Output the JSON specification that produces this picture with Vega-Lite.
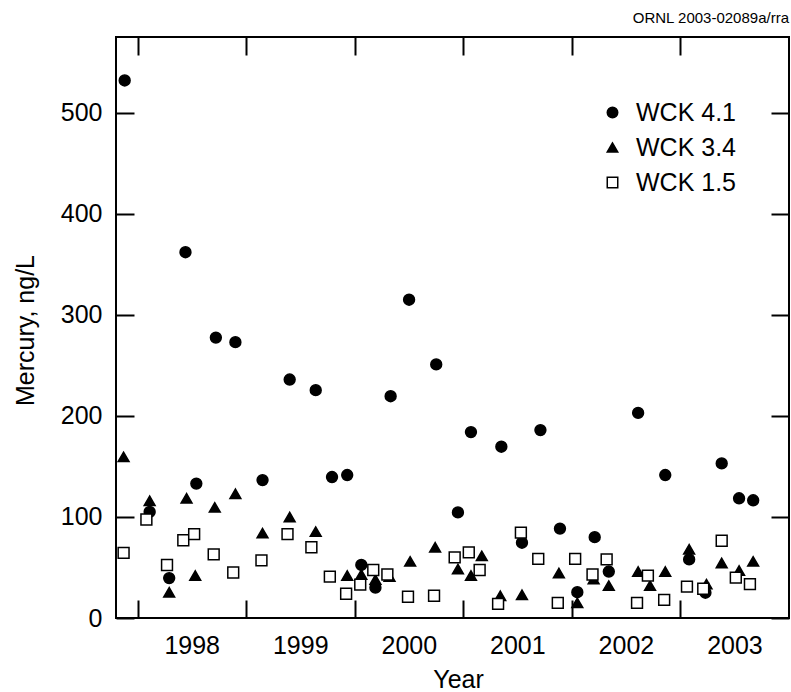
{
  "$schema": "https://vega.github.io/schema/vega-lite/v6.json",
  "width": 673,
  "height": 581,
  "autosize": {"type": "none"},
  "padding": {"left": 116, "top": 37, "right": 2, "bottom": 74},
  "background": "white",
  "title": {
    "text": "ORNL 2003-02089a/rra",
    "anchor": "end",
    "orient": "top",
    "frame": "group",
    "font": "Liberation Sans",
    "fontSize": 15,
    "fontWeight": "normal",
    "color": "black",
    "baseline": "alphabetic",
    "offset": -2
  },
  "config": {
    "view": {"stroke": "black", "strokeWidth": 2},
    "axis": {
      "domain": false,
      "grid": false,
      "tickColor": "black",
      "tickWidth": 2,
      "tickSize": -18,
      "labelFont": "Liberation Sans",
      "labelFontSize": 25,
      "labelColor": "black",
      "titleFont": "Liberation Sans",
      "titleFontSize": 25,
      "titleFontWeight": "normal",
      "titleColor": "black",
      "labelFlush": false,
      "labelOverlap": false,
      "labelBound": false
    },
    "legend": {
      "labelFont": "Liberation Sans",
      "labelFontSize": 25,
      "labelColor": "black"
    }
  },
  "data": {
    "values": [
      {"site": "WCK 4.1", "year": 1997.88, "hg": 532},
      {"site": "WCK 4.1", "year": 1998.11, "hg": 105},
      {"site": "WCK 4.1", "year": 1998.29, "hg": 39.5},
      {"site": "WCK 4.1", "year": 1998.44, "hg": 362},
      {"site": "WCK 4.1", "year": 1998.54, "hg": 133},
      {"site": "WCK 4.1", "year": 1998.72, "hg": 277.5},
      {"site": "WCK 4.1", "year": 1998.90, "hg": 273},
      {"site": "WCK 4.1", "year": 1999.15, "hg": 136.5},
      {"site": "WCK 4.1", "year": 1999.40, "hg": 236},
      {"site": "WCK 4.1", "year": 1999.64, "hg": 225.5},
      {"site": "WCK 4.1", "year": 1999.79, "hg": 139.5},
      {"site": "WCK 4.1", "year": 1999.93, "hg": 141.5},
      {"site": "WCK 4.1", "year": 2000.06, "hg": 52.5},
      {"site": "WCK 4.1", "year": 2000.19, "hg": 30},
      {"site": "WCK 4.1", "year": 2000.33, "hg": 219.5},
      {"site": "WCK 4.1", "year": 2000.50, "hg": 315},
      {"site": "WCK 4.1", "year": 2000.75, "hg": 251},
      {"site": "WCK 4.1", "year": 2000.95, "hg": 104.5},
      {"site": "WCK 4.1", "year": 2001.07, "hg": 184},
      {"site": "WCK 4.1", "year": 2001.35, "hg": 169.5},
      {"site": "WCK 4.1", "year": 2001.54, "hg": 74.5},
      {"site": "WCK 4.1", "year": 2001.71, "hg": 186},
      {"site": "WCK 4.1", "year": 2001.89, "hg": 88.5},
      {"site": "WCK 4.1", "year": 2002.05, "hg": 25.5},
      {"site": "WCK 4.1", "year": 2002.21, "hg": 80},
      {"site": "WCK 4.1", "year": 2002.34, "hg": 46},
      {"site": "WCK 4.1", "year": 2002.61, "hg": 203},
      {"site": "WCK 4.1", "year": 2002.86, "hg": 141.5},
      {"site": "WCK 4.1", "year": 2003.08, "hg": 58},
      {"site": "WCK 4.1", "year": 2003.23, "hg": 25},
      {"site": "WCK 4.1", "year": 2003.38, "hg": 153},
      {"site": "WCK 4.1", "year": 2003.54, "hg": 118.5},
      {"site": "WCK 4.1", "year": 2003.67, "hg": 116.5},

      {"site": "WCK 3.4", "year": 1997.87, "hg": 159.5},
      {"site": "WCK 3.4", "year": 1998.11, "hg": 116},
      {"site": "WCK 3.4", "year": 1998.29, "hg": 25.5},
      {"site": "WCK 3.4", "year": 1998.45, "hg": 118.5},
      {"site": "WCK 3.4", "year": 1998.53, "hg": 42},
      {"site": "WCK 3.4", "year": 1998.71, "hg": 109.5},
      {"site": "WCK 3.4", "year": 1998.90, "hg": 123},
      {"site": "WCK 3.4", "year": 1999.15, "hg": 84},
      {"site": "WCK 3.4", "year": 1999.40, "hg": 100},
      {"site": "WCK 3.4", "year": 1999.64, "hg": 85.5},
      {"site": "WCK 3.4", "year": 1999.93, "hg": 42},
      {"site": "WCK 3.4", "year": 2000.06, "hg": 43},
      {"site": "WCK 3.4", "year": 2000.19, "hg": 38},
      {"site": "WCK 3.4", "year": 2000.32, "hg": 41},
      {"site": "WCK 3.4", "year": 2000.51, "hg": 56},
      {"site": "WCK 3.4", "year": 2000.74, "hg": 70},
      {"site": "WCK 3.4", "year": 2000.95, "hg": 48.5},
      {"site": "WCK 3.4", "year": 2001.07, "hg": 42},
      {"site": "WCK 3.4", "year": 2001.17, "hg": 61.5},
      {"site": "WCK 3.4", "year": 2001.34, "hg": 22},
      {"site": "WCK 3.4", "year": 2001.54, "hg": 23},
      {"site": "WCK 3.4", "year": 2001.88, "hg": 44.5},
      {"site": "WCK 3.4", "year": 2002.05, "hg": 15},
      {"site": "WCK 3.4", "year": 2002.20, "hg": 38.5},
      {"site": "WCK 3.4", "year": 2002.34, "hg": 32},
      {"site": "WCK 3.4", "year": 2002.61, "hg": 46},
      {"site": "WCK 3.4", "year": 2002.72, "hg": 32},
      {"site": "WCK 3.4", "year": 2002.86, "hg": 46},
      {"site": "WCK 3.4", "year": 2003.08, "hg": 68},
      {"site": "WCK 3.4", "year": 2003.24, "hg": 33.5},
      {"site": "WCK 3.4", "year": 2003.38, "hg": 54.5},
      {"site": "WCK 3.4", "year": 2003.54, "hg": 47},
      {"site": "WCK 3.4", "year": 2003.67, "hg": 56},

      {"site": "WCK 1.5", "year": 1997.87, "hg": 64.5},
      {"site": "WCK 1.5", "year": 1998.08, "hg": 97.5},
      {"site": "WCK 1.5", "year": 1998.27, "hg": 52.5},
      {"site": "WCK 1.5", "year": 1998.42, "hg": 77},
      {"site": "WCK 1.5", "year": 1998.52, "hg": 83},
      {"site": "WCK 1.5", "year": 1998.70, "hg": 63},
      {"site": "WCK 1.5", "year": 1998.88, "hg": 45},
      {"site": "WCK 1.5", "year": 1999.14, "hg": 57},
      {"site": "WCK 1.5", "year": 1999.38, "hg": 83},
      {"site": "WCK 1.5", "year": 1999.60, "hg": 70},
      {"site": "WCK 1.5", "year": 1999.77, "hg": 41},
      {"site": "WCK 1.5", "year": 1999.92, "hg": 24},
      {"site": "WCK 1.5", "year": 2000.05, "hg": 33},
      {"site": "WCK 1.5", "year": 2000.17, "hg": 47.5},
      {"site": "WCK 1.5", "year": 2000.30, "hg": 43},
      {"site": "WCK 1.5", "year": 2000.49, "hg": 21},
      {"site": "WCK 1.5", "year": 2000.73, "hg": 22},
      {"site": "WCK 1.5", "year": 2000.92, "hg": 60},
      {"site": "WCK 1.5", "year": 2001.05, "hg": 65},
      {"site": "WCK 1.5", "year": 2001.15, "hg": 47.5},
      {"site": "WCK 1.5", "year": 2001.32, "hg": 14},
      {"site": "WCK 1.5", "year": 2001.53, "hg": 84.5},
      {"site": "WCK 1.5", "year": 2001.69, "hg": 58.5},
      {"site": "WCK 1.5", "year": 2001.87, "hg": 15},
      {"site": "WCK 1.5", "year": 2002.03, "hg": 58.5},
      {"site": "WCK 1.5", "year": 2002.19, "hg": 43},
      {"site": "WCK 1.5", "year": 2002.32, "hg": 58},
      {"site": "WCK 1.5", "year": 2002.60, "hg": 15},
      {"site": "WCK 1.5", "year": 2002.70, "hg": 42},
      {"site": "WCK 1.5", "year": 2002.85, "hg": 18},
      {"site": "WCK 1.5", "year": 2003.06, "hg": 31},
      {"site": "WCK 1.5", "year": 2003.21, "hg": 29},
      {"site": "WCK 1.5", "year": 2003.38, "hg": 76.5},
      {"site": "WCK 1.5", "year": 2003.51, "hg": 40},
      {"site": "WCK 1.5", "year": 2003.64, "hg": 33.5}
    ]
  },
  "layer": [
    {
      "mark": {"type": "point", "filled": true, "stroke": "black", "strokeWidth": 1.5, "opacity": 1, "size": 118},
      "encoding": {
        "x": {
          "field": "year",
          "type": "quantitative",
          "scale": {"domain": [1997.8, 2004], "nice": false, "zero": false},
          "axis": {
            "orient": "bottom",
            "values": [1998, 1999, 2000, 2001, 2002, 2003],
            "format": "d",
            "labelOffset": 54,
            "labelBaseline": "alphabetic",
            "labelPadding": 53,
            "title": "Year",
            "titleBaseline": "alphabetic",
            "titleY": 69,
            "titleX": 342
          }
        },
        "y": {
          "field": "hg",
          "type": "quantitative",
          "scale": {"domain": [0, 575], "nice": false},
          "axis": {
            "orient": "left",
            "values": [0, 100, 200, 300, 400, 500],
            "labelPadding": 32,
            "title": "Mercury, ng/L",
            "titleAngle": -90,
            "titleAlign": "center",
            "titleBaseline": "alphabetic",
            "titleX": -83,
            "titleY": 293
          }
        },
        "shape": {
          "field": "site",
          "type": "nominal",
          "scale": {"domain": ["WCK 4.1", "WCK 3.4", "WCK 1.5"], "range": ["circle", "triangle-up", "square"]},
          "legend": {
            "title": null,
            "orient": "none",
            "legendX": 484,
            "legendY": 63,
            "padding": 0,
            "rowPadding": 9,
            "symbolSize": 110,
            "labelOffset": 11,
            "encode": {"symbols": {"update": {"stroke": {"value": "black"}, "strokeWidth": {"value": 1.5}}}}
          }
        },
        "fill": {
          "field": "site",
          "type": "nominal",
          "scale": {"domain": ["WCK 4.1", "WCK 3.4", "WCK 1.5"], "range": ["black", "black", "white"]},
          "legend": {
            "title": null,
            "orient": "none",
            "legendX": 484,
            "legendY": 63,
            "padding": 0,
            "rowPadding": 9,
            "symbolSize": 110,
            "labelOffset": 11,
            "encode": {"symbols": {"update": {"stroke": {"value": "black"}, "strokeWidth": {"value": 1.5}}}}
          }
        }
      }
    },
    {
      "mark": {"type": "point", "opacity": 0},
      "encoding": {
        "x": {
          "field": "year",
          "type": "quantitative",
          "axis": {"orient": "top", "values": [1998, 1999, 2000, 2001, 2002, 2003], "labels": false, "title": null}
        },
        "y": {
          "field": "hg",
          "type": "quantitative",
          "axis": {"orient": "right", "values": [0, 100, 200, 300, 400, 500], "labels": false, "title": null}
        }
      }
    }
  ],
  "resolve": {"axis": {"x": "independent", "y": "independent"}}
}
